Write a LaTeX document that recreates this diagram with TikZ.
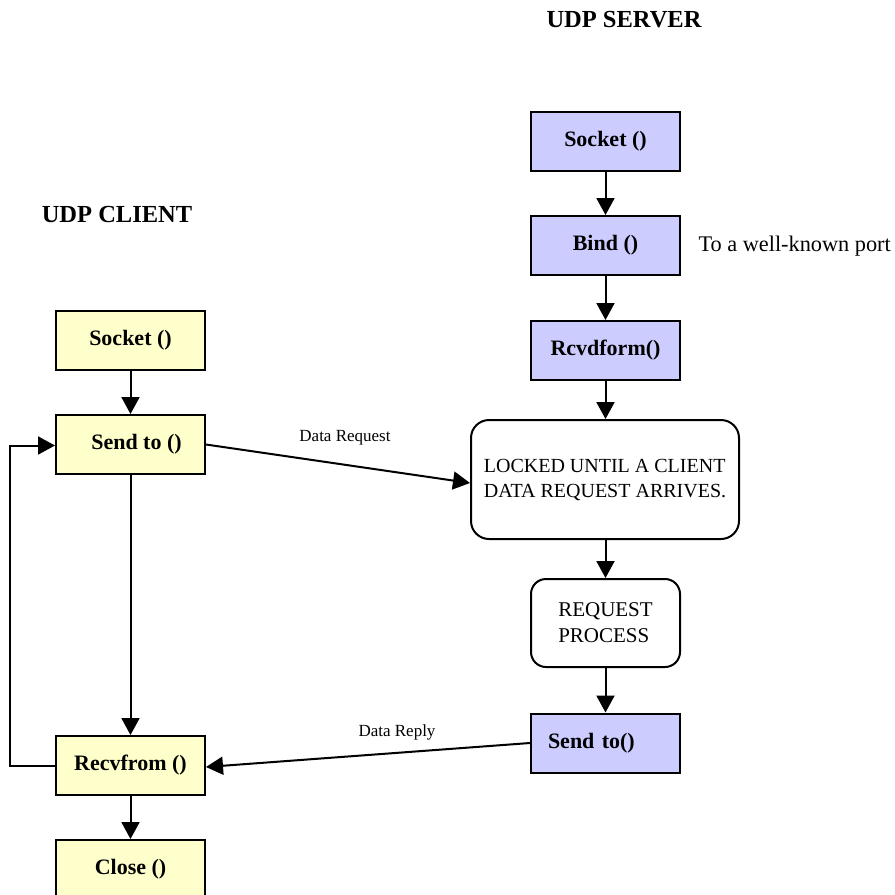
\documentclass[tikz,border=0pt]{standalone}
\usepackage{fontspec}
\setmainfont{Liberation Serif}
\usetikzlibrary{arrows.meta}

\definecolor{srvfill}{HTML}{CCCCFF}
\definecolor{clifill}{HTML}{FFFFCC}

\tikzset{
  fnbox/.style={draw, line width=2pt, minimum width=149pt, minimum height=59pt,
    inner sep=0pt, font=\fontsize{22}{26}\selectfont\bfseries},
  srvbox/.style={fnbox, fill=srvfill},
  clibox/.style={fnbox, fill=clifill},
  waitbox/.style={draw, line width=2pt, rounded corners=18pt, fill=white,
    align=left, inner sep=0pt},
  title/.style={font=\fontsize{24.5}{28}\selectfont\bfseries},
  note/.style={font=\fontsize{22.3}{26}\selectfont, anchor=west},
  msglabel/.style={font=\fontsize{17}{20}\selectfont},
  arr/.style={line width=2pt, -{Triangle[length=17pt,width=18pt]}},
}

\begin{document}
\begin{tikzpicture}[x=1pt,y=-1pt]
  \useasboundingbox (0,0) rectangle (895,895);

  % column headings
  \node[title] (srvtitle) at (624,20) {UDP SERVER};
  \node[title] (clititle) at (117,215) {UDP CLIENT};

  % server side
  \node[srvbox] (ssock) at (605.5,141) {Socket ()};
  \node[srvbox] (sbind) at (605.5,245.5) {Bind ()};
  \node[note] (bindnote) at (695,246) {To a well-known port};
  \node[srvbox] (srecv) at (605.5,350.5) {Rcvdform()};
  \node[waitbox, minimum width=268pt, minimum height=119pt,
        font=\fontsize{20}{25}\selectfont]
        (lock) at (605,479.5) {LOCKED UNTIL A CLIENT\\DATA REQUEST ARRIVES.};
  \node[waitbox, rounded corners=15pt, minimum width=149pt, minimum height=88pt,
        font=\fontsize{21}{26}\selectfont]
        (proc) at (605.5,623) {REQUEST\\PROCESS\hspace{5pt}};
  \node[srvbox, align=left, inner xsep=17pt, text width=115pt]
        (ssend) at (605.5,743) {Send to()};

  % client side
  \node[clibox] (csock) at (130.5,340) {Socket ()};
  \node[clibox] (csend) at (130.5,444.5) {\hspace{12pt}Send to ()};
  \node[clibox] (crecv) at (130.5,765.5) {Recvfrom ()};
  \node[clibox] (cclose) at (130.5,869.5) {Close ()};

  % server flow
  \draw[arr] (ssock) -- (sbind);
  \draw[arr] (sbind) -- (srecv);
  \draw[arr] (srecv) -- (srecv |- lock.north);
  \draw[arr] (lock.south -| proc) -- (proc);
  \draw[arr] (proc) -- (ssend);

  % client flow
  \draw[arr] (csock) -- (csend);
  \draw[arr] (csend) -- (crecv);
  \draw[arr] (crecv) -- (cclose);
  \draw[arr] (crecv.west) -- ++(-45,0) |- ([yshift=-1pt]csend.west);

  % messages between client and server
  \draw[arr] (csend.east) -- ([yshift=-3.5pt]lock.west);
  \node[msglabel] (reqlabel) at (345,438) {Data Request};
  \draw[arr] (ssend.west) -- ([yshift=-1.5pt]crecv.east);
  \node[msglabel] (replabel) at (397,732) {Data Reply};
\end{tikzpicture}
\end{document}
